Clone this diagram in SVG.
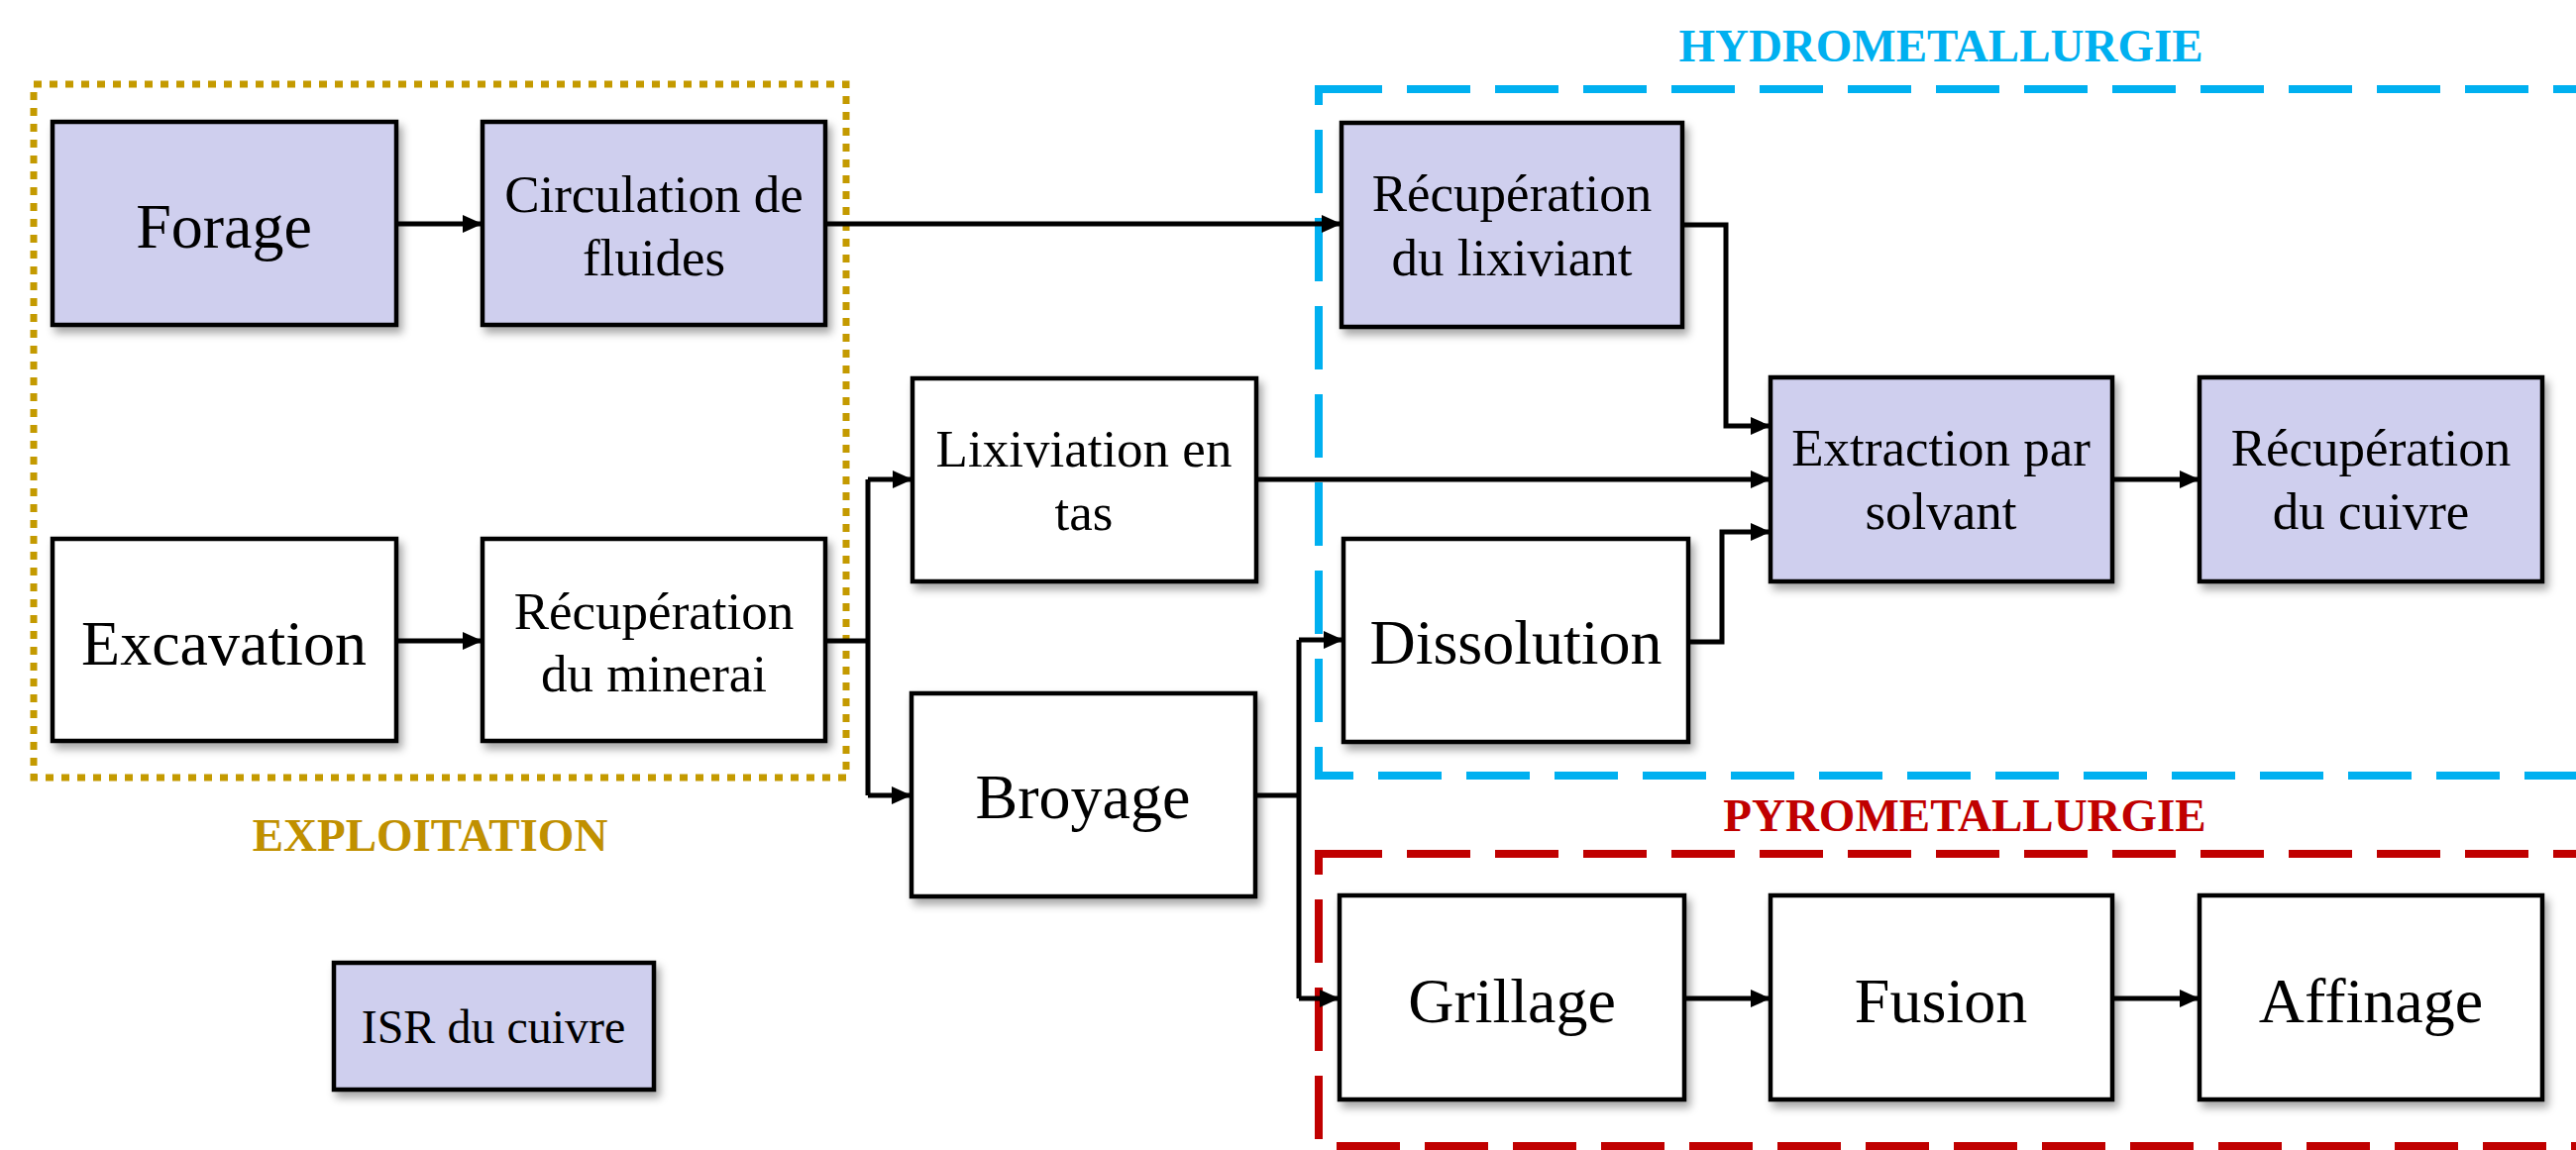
<svg xmlns="http://www.w3.org/2000/svg" width="2600" height="1161" viewBox="0 0 2600 1161">
<style>
.box{stroke:#000;stroke-width:4.5;filter:url(#sh)}
.lav{fill:#CFCFEE}
.wht{fill:#fff}
.t{font-family:"Liberation Serif","Times New Roman",serif;fill:#000;text-anchor:middle}
.big{font-size:64px}
.mid{font-size:53px}
.lbl{font-family:"Liberation Serif","Times New Roman",serif;font-weight:bold;font-size:47px;text-anchor:middle}
.c{fill:none;stroke:#000;stroke-width:5;stroke-linejoin:miter}
.ca{fill:none;stroke:#000;stroke-width:5;marker-end:url(#ah)}
</style>
<defs>
<filter id="sh" x="-10%" y="-10%" width="130%" height="130%">
<feDropShadow dx="4" dy="6" stdDeviation="4" flood-color="#000" flood-opacity="0.35"/>
</filter>
<marker id="ah" markerUnits="userSpaceOnUse" markerWidth="20" markerHeight="18" refX="20" refY="9" orient="auto">
<path d="M0,0 L20,9 L0,18 z" fill="#000"/>
</marker>
</defs>
<rect width="2600" height="1161" fill="#fff"/>

<g id="groups">
<rect x="34" y="85" width="820" height="700" fill="none" stroke="#C49A00" stroke-width="7" stroke-dasharray="8 8"/>
<text class="lbl" x="434" y="859" fill="#C09000">EXPLOITATION</text>
<rect x="1331" y="90" width="1273" height="693" fill="none" stroke="#00B0F0" stroke-width="8" stroke-dasharray="64 25"/>
<text class="lbl" x="1959" y="62" fill="#00B0F0">HYDROMETALLURGIE</text>
<rect x="1331" y="862" width="1273" height="295" fill="none" stroke="#C00000" stroke-width="8" stroke-dasharray="64 25"/>
<text class="lbl" x="1983" y="839" fill="#C00000">PYROMETALLURGIE</text>
</g>

<g id="connectors">
<line class="ca" x1="400" y1="226" x2="487" y2="226"/>
<line class="ca" x1="833" y1="226" x2="1354" y2="226"/>
<line class="ca" x1="400" y1="647" x2="487" y2="647"/>
<polyline class="c" points="833,647 876,647"/>
<line class="c" x1="876" y1="484" x2="876" y2="803"/>
<polyline class="ca" points="876,484 921,484"/>
<polyline class="ca" points="876,803 920,803"/>
<line class="ca" x1="1268" y1="484" x2="1787" y2="484"/>
<polyline class="ca" points="1698,227 1742,227 1742,430 1787,430"/>
<polyline class="ca" points="1704,648 1738,648 1738,537 1787,537"/>
<polyline class="c" points="1267,803 1311,803"/>
<line class="c" x1="1311" y1="646" x2="1311" y2="1008"/>
<polyline class="ca" points="1311,646 1356,646"/>
<polyline class="ca" points="1311,1008 1352,1008"/>
<line class="ca" x1="2132" y1="484" x2="2220" y2="484"/>
<line class="ca" x1="1700" y1="1008" x2="1787" y2="1008"/>
<line class="ca" x1="2132" y1="1008" x2="2220" y2="1008"/>
</g>

<g id="forage"><rect class="box lav" x="53" y="123" width="347" height="205"/><text class="t big" x="226" y="250">Forage</text></g>
<g id="circulation"><rect class="box lav" x="487" y="123" width="346" height="205"/><text class="t mid" x="660" y="214">Circulation de</text><text class="t mid" x="660" y="278">fluides</text></g>
<g id="excavation"><rect class="box wht" x="53" y="544" width="347" height="204"/><text class="t big" x="226" y="671">Excavation</text></g>
<g id="recup-minerai"><rect class="box wht" x="487" y="544" width="346" height="204"/><text class="t mid" x="660" y="635">Récupération</text><text class="t mid" x="660" y="698">du minerai</text></g>
<g id="lixiviation"><rect class="box wht" x="921" y="382" width="347" height="205"/><text class="t mid" x="1094" y="471">Lixiviation en</text><text class="t mid" x="1094" y="535">tas</text></g>
<g id="broyage"><rect class="box wht" x="920" y="700" width="347" height="205"/><text class="t big" x="1093" y="826">Broyage</text></g>
<g id="recup-lixiviant"><rect class="box lav" x="1354" y="124" width="344" height="206"/><text class="t mid" x="1526" y="213">Récupération</text><text class="t mid" x="1526" y="278">du lixiviant</text></g>
<g id="dissolution"><rect class="box wht" x="1356" y="544" width="348" height="205"/><text class="t big" x="1530" y="670">Dissolution</text></g>
<g id="extraction"><rect class="box lav" x="1787" y="381" width="345" height="206"/><text class="t mid" x="1959" y="470">Extraction par</text><text class="t mid" x="1959" y="534">solvant</text></g>
<g id="recup-cuivre"><rect class="box lav" x="2220" y="381" width="346" height="206"/><text class="t mid" x="2393" y="470">Récupération</text><text class="t mid" x="2393" y="534">du cuivre</text></g>
<g id="grillage"><rect class="box wht" x="1352" y="904" width="348" height="206"/><text class="t big" x="1526" y="1032">Grillage</text></g>
<g id="fusion"><rect class="box wht" x="1787" y="904" width="345" height="206"/><text class="t big" x="1959" y="1032">Fusion</text></g>
<g id="affinage"><rect class="box wht" x="2220" y="904" width="346" height="206"/><text class="t big" x="2393" y="1032">Affinage</text></g>
<g id="isr"><rect class="box lav" x="337" y="972" width="323" height="128"/><text class="t" font-size="48" x="498" y="1053">ISR du cuivre</text></g>
</svg>
